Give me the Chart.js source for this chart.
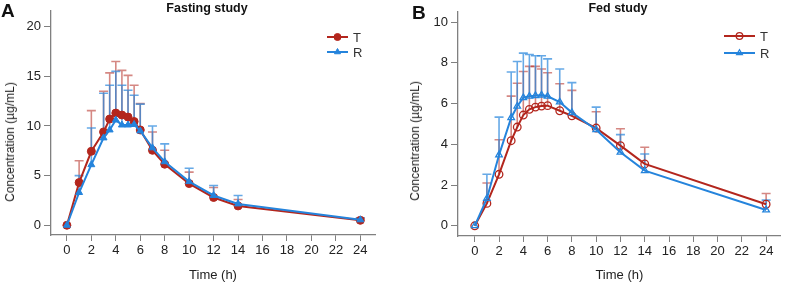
<!DOCTYPE html>
<html>
<head>
<meta charset="utf-8">
<script src="https://cdn.jsdelivr.net/npm/chart.js@4.4.1/dist/chart.umd.min.js"></script>
<style>
  body { margin: 0; background: #fff; font-family: "Liberation Sans", Arial, sans-serif; }
  #wrap { position: relative; width: 786px; height: 284px; overflow: hidden; }
  canvas { position: absolute; top: 0; }
  .lbl { position: absolute; color: #111; white-space: nowrap; }
  .panel { font-weight: bold; font-size: 19px; }
  .ttl { font-weight: bold; font-size: 12.5px; transform: translateX(-50%); }
  .ytl { font-size: 12px; color: #222; transform: translate(-50%, -50%) rotate(-90deg); }
</style>
</head>
<body>
<div id="wrap">
  <canvas id="cA" width="393" height="284" style="left:0"></canvas>
  <canvas id="cB" width="393" height="284" style="left:393px"></canvas>
  <div class="lbl panel" style="left:1px;top:0px">A</div>
  <div class="lbl panel" style="left:412px;top:2px">B</div>
  <div class="lbl ttl" style="left:207px;top:1px">Fasting study</div>
  <div class="lbl ttl" style="left:618px;top:1px">Fed study</div>
  <div class="lbl ytl" style="left:10px;top:142px">Concentration (µg/mL)</div>
  <div class="lbl ytl" style="left:415px;top:141px">Concentration (µg/mL)</div>
</div>
<script>
// sampling times (h)
const times = [0, 1, 2, 3, 3.5, 4, 4.5, 5, 5.5, 6, 7, 8, 10, 12, 14, 24];
const xTicks = [0, 2, 4, 6, 8, 10, 12, 14, 16, 18, 20, 22, 24];

// fasting study: mean and mean+SD
const fastT   = [0, 4.3, 7.45, 9.4, 10.7, 11.3, 11.1, 10.9, 10.45, 9.6, 7.55, 6.15, 4.2, 2.8, 1.95, 0.5];
const fastR   = [0, 3.3, 6.1, 8.8, 9.6, 10.6, 10.1, 10.1, 10.15, 9.5, 7.8, 6.4, 4.4, 3.0, 2.15, 0.55];
const fastTUp = [0, 6.5, 11.55, 13.5, 15.35, 16.5, 15.6, 15.1, 14.1, 12.25, 9.4, 7.55, 5.35, 3.8, 2.6, 0.7];
const fastRUp = [0, 5.0, 9.8, 13.3, 14.1, 15.5, 14.1, 13.6, 13.1, 12.2, 10.0, 8.2, 5.75, 4.0, 3.0, 0.75];
const fastYTicks = [0, 5, 10, 15, 20];

// fed study: mean and mean+SD
const fedT   = [0, 1.1, 2.53, 4.18, 4.85, 5.44, 5.72, 5.83, 5.88, 5.9, 5.65, 5.4, 4.8, 3.94, 3.04, 1.06];
const fedR   = [0, 1.34, 3.48, 5.31, 5.87, 6.29, 6.36, 6.39, 6.42, 6.36, 6.08, 5.56, 4.72, 3.61, 2.71, 0.78];
const fedTUp = [0, 2.1, 4.23, 6.37, 7.0, 7.58, 7.83, 7.83, 7.7, 7.52, 6.98, 6.65, 5.6, 4.77, 3.86, 1.59];
const fedRUp = [0, 2.53, 5.34, 7.55, 8.07, 8.48, 8.41, 8.35, 8.35, 8.2, 7.7, 7.03, 5.83, 4.48, 3.53, 1.26];
const fedYTicks = [0, 2, 4, 6, 8, 10];

const red = '#b3261d';
const blue = '#2584dc';
const redErr = 'rgba(179,38,29,0.55)';
const blueErr = 'rgba(37,132,220,0.7)';
const axisCol = '#808080';

const toXY = (vals) => times.map((t, i) => ({ x: t, y: vals[i] }));

// upward error bars, drawn under the lines
const errorBars = {
    id: 'errorBars',
    beforeDatasetsDraw(chart) {
        const ctx = chart.ctx;
        const xs = chart.scales.x, ys = chart.scales.y;
        chart.data.datasets.forEach((ds, i) => {
            if (!ds.errUp) return;
            ctx.save();
            ctx.strokeStyle = ds.errColor;
            ctx.lineWidth = 1.6;
            ds.data.forEach((p, j) => {
                const up = ds.errUp[j];
                if (up <= p.y) return;
                const px = xs.getPixelForValue(p.x);
                const y0 = ys.getPixelForValue(p.y);
                const y1 = ys.getPixelForValue(up);
                ctx.beginPath();
                ctx.moveTo(px, y0);
                ctx.lineTo(px, y1);
                ctx.moveTo(px - 4.5, y1);
                ctx.lineTo(px + 4.5, y1);
                ctx.stroke();
            });
            ctx.restore();
        });
    }
};

// small legend inside the plot area
const miniLegend = {
    id: 'miniLegend',
    afterDraw(chart, args, opts) {
        const ctx = chart.ctx;
        chart.data.datasets.forEach((ds, i) => {
            const y = opts.y + i * opts.gap;
            ctx.save();
            ctx.strokeStyle = ds.borderColor;
            ctx.lineWidth = 2;
            ctx.beginPath();
            ctx.moveTo(opts.x, y);
            ctx.lineTo(opts.x + opts.len, y);
            ctx.stroke();
            ctx.fillStyle = ds.pointBackgroundColor;
            ctx.strokeStyle = ds.pointBorderColor;
            ctx.lineWidth = ds.pointBorderWidth;
            Chart.helpers.drawPoint(ctx, {
                pointStyle: ds.pointStyle,
                radius: opts.r,
                rotation: 0,
                borderWidth: ds.pointBorderWidth
            }, opts.x + opts.len / 2, y);
            ctx.fillStyle = '#333';
            ctx.font = '13px "Liberation Sans", Arial, sans-serif';
            ctx.textBaseline = 'middle';
            ctx.fillText(ds.label, opts.x + opts.len + 5, y + 1);
            ctx.restore();
        });
    }
};

function makeChart(id, cfg) {
    const mk = (label, vals, up, col, errCol, style, filled, order) => ({
        label: label,
        data: toXY(vals),
        errUp: up,
        errColor: errCol,
        borderColor: col,
        backgroundColor: filled ? col : 'rgba(255,255,255,0)',
        borderWidth: 2,
        pointStyle: style,
        pointRadius: cfg.pointRadius,
        pointBorderWidth: filled ? 1 : 1.3,
        pointBackgroundColor: filled ? col : 'rgba(255,255,255,0)',
        pointBorderColor: col,
        tension: 0,
        order: order
    });
    return new Chart(document.getElementById(id).getContext('2d'), {
        type: 'line',
        data: {
            datasets: [
                mk('T', cfg.t, cfg.tUp, red, redErr, 'circle', cfg.filled, 1),
                mk('R', cfg.r, cfg.rUp, blue, blueErr, 'triangle', cfg.filled, 0)
            ]
        },
        options: {
            responsive: false,
            animation: false,
            devicePixelRatio: 1,
            layout: { padding: { top: cfg.top, right: cfg.right, left: 0, bottom: 0 } },
            scales: {
                x: {
                    type: 'linear',
                    min: cfg.xMin,
                    max: cfg.xMax,
                    afterBuildTicks: s => { s.ticks = xTicks.map(v => ({ value: v })); },
                    afterFit: s => { s.height = cfg.xH; },
                    grid: { drawOnChartArea: false, drawTicks: true, tickLength: 6, color: axisCol },
                    border: { display: true, color: axisCol, width: 1.3 },
                    ticks: { color: '#222', padding: 2, maxRotation: 0, font: { size: 13, family: '"Liberation Sans", Arial, sans-serif' } },
                    title: { display: true, text: 'Time (h)', color: '#222', padding: { top: 0, bottom: 1 }, font: { size: 13, family: '"Liberation Sans", Arial, sans-serif' } }
                },
                y: {
                    min: cfg.yMin,
                    max: cfg.yMax,
                    afterBuildTicks: s => { s.ticks = cfg.yTicks.map(v => ({ value: v })); },
                    afterFit: s => { s.width = cfg.yW; },
                    grid: { drawOnChartArea: false, drawTicks: true, tickLength: 7, color: axisCol },
                    border: { display: true, color: axisCol, width: 1.3 },
                    ticks: { color: '#222', padding: 3, font: { size: 13, family: '"Liberation Sans", Arial, sans-serif' } }
                }
            },
            plugins: {
                legend: { display: false },
                tooltip: { enabled: false },
                miniLegend: cfg.legend
            }
        },
        plugins: [errorBars, miniLegend]
    });
}

makeChart('cA', {
    t: fastT, r: fastR, tUp: fastTUp, rUp: fastRUp, yTicks: fastYTicks,
    filled: true, pointRadius: 4,
    xMin: -1.3, xMax: 25.2, yMin: -0.98, yMax: 21.6,
    top: 5, right: 18, yW: 51, xH: 49,
    legend: { x: 327, y: 37, gap: 15, len: 21, r: 3.5 }
});

makeChart('cB', {
    t: fedT, r: fedR, tUp: fedTUp, rUp: fedRUp, yTicks: fedYTicks,
    filled: false, pointRadius: 3.8,
    xMin: -1.38, xMax: 25.2, yMin: -0.5, yMax: 10.5,
    top: 12, right: 1, yW: 65, xH: 48,
    legend: { x: 331, y: 36, gap: 17, len: 31, r: 3.3 }
});
</script>
</body>
</html>
